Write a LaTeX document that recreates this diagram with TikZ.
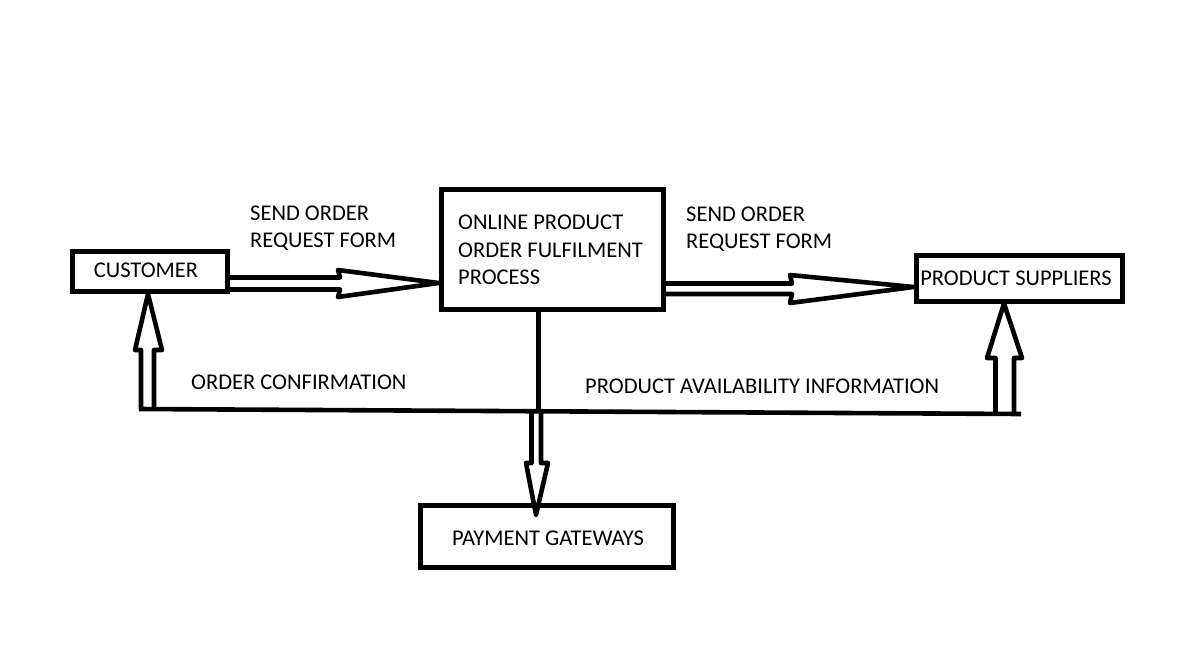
\documentclass[tikz,border=0pt]{standalone}
\usepackage{fontspec}
\setmainfont{Carlito}
\usetikzlibrary{calc}
\begin{document}
\begin{tikzpicture}[x=1pt,y=-1pt,
  boxnode/.style={draw=black,line width=5pt,inner sep=0pt},
  txt/.style={inner sep=0pt,font=\fontsize{22.5}{27}\selectfont},
  lbl/.style={txt,anchor=base west},
  blk/.style={draw=black,line width=4.6pt,line join=round,fill=none},
  ln/.style={draw=black,line width=4.6pt,line cap=butt}]
\useasboundingbox (0,0) rectangle (1201,648);
% boxes
\node[boxnode,minimum width=155pt,minimum height=40pt] (cust) at (150,271.5) {};
\node[txt,anchor=base] (custt) at (146,277) {CUSTOMER};
\node[boxnode,minimum width=222pt,minimum height=120pt] (proc) at (552,249) {};
\node[boxnode,minimum width=206pt,minimum height=46pt] (supp) at (1019,278) {};
\node[txt,anchor=base] (suppt) at (1016,285) {PRODUCT SUPPLIERS};
\node[boxnode,minimum width=253pt,minimum height=62pt] (pay) at (546.5,536) {};
\node[txt,anchor=base] (payt) at (548,545) {PAYMENT GATEWAYS};
% texts
\node[lbl] (p1) at (458,229) {ONLINE PRODUCT};
\node[lbl] (p2) at (458,257) {ORDER FULFILMENT};
\node[lbl] (p3) at (458,284) {PROCESS};
\node[lbl] (s1) at (250,220) {SEND ORDER};
\node[lbl] (s2) at (250,247) {REQUEST FORM};
\node[lbl] (r1) at (686,221) {SEND ORDER};
\node[lbl] (r2) at (686,248) {REQUEST FORM};
\node[lbl] (oc) at (191,389) {ORDER CONFIRMATION};
\node[lbl] (pa) at (585,393) {PRODUCT AVAILABILITY INFORMATION};
% block arrow customer -> process
\draw[blk] (cust.east |- 0,277.5) -- (340,277.5) -- (338,270) -- (proc.west |- 0,283) -- (338,297) -- (340,289.5) -- (cust.east |- 0,289.5);
% block arrow process -> suppliers
\draw[blk] (proc.east |- 0,283.5) -- (792,283.5) -- (790,275) -- (supp.west |- 0,287) -- (790,303) -- (792,294) -- (proc.east |- 0,294);
% bottom feedback line
\coordinate (hl) at (139,409);
\coordinate (hr) at (1021,414);
\draw[ln] (hl) -- (hr);
% vertical line from process down
\coordinate (mid) at (538.5,410.5);
\draw[ln] (proc.south -| mid) -- (mid);
% up arrow to customer
\draw[blk] (141,409) -- (141,350) -- (135,350) -- (cust.south -| 148,0) -- (162,350) -- (154,350) -- (154,409.5);
% up arrow to suppliers
\draw[blk] (995.5,414) -- (995.5,358) -- (987,358) -- (supp.south -| 1004,0) -- (1022,358) -- (1014,358) -- (1014,414);
% down arrow to payment
\draw[blk] (531.5,410.5) -- (531.5,463) -- (526,463) -- (536,515) -- (548,463) -- (541,463) -- (541,410.5);
\end{tikzpicture}
\end{document}
